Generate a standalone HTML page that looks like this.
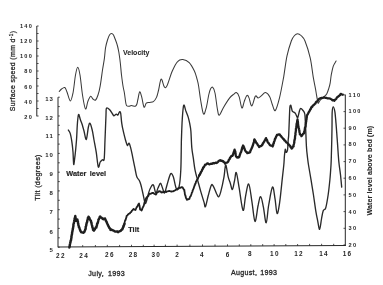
<!DOCTYPE html>
<html><head><meta charset="utf-8"><style>
html,body{margin:0;padding:0;background:#fff;}
body{width:383px;height:285px;overflow:hidden;}
svg{display:block;}
text{font-family:"Liberation Sans",Arial,sans-serif;fill:#262626;stroke:#262626;stroke-width:0.18px;}
.n{font-size:5.6px;font-weight:bold;letter-spacing:1.25px;stroke-width:0;}
.nt{font-size:6px;font-weight:bold;letter-spacing:1.1px;stroke-width:0;}
.nb{font-size:6.4px;font-weight:bold;letter-spacing:1.3px;stroke-width:0;}
.lab{font-size:7.3px;font-weight:bold;word-spacing:1.5px;}
.ax{font-size:7.4px;stroke-width:0.28px;}
.dt{font-size:7.1px;letter-spacing:0.35px;word-spacing:1.6px;stroke-width:0.3px;}
</style></head><body>
<svg width="383" height="285" viewBox="0 0 383 285">
<rect width="383" height="285" fill="#fff"/>

<line x1="36.8" y1="26" x2="36.8" y2="116.3" stroke="#262626" stroke-width="1"/>
<line x1="36.8" y1="26.0" x2="38.6" y2="26.0" stroke="#262626" stroke-width="0.8"/>
<line x1="36.8" y1="33.5" x2="38.6" y2="33.5" stroke="#262626" stroke-width="0.8"/>
<line x1="36.8" y1="41.0" x2="38.6" y2="41.0" stroke="#262626" stroke-width="0.8"/>
<line x1="36.8" y1="48.5" x2="38.6" y2="48.5" stroke="#262626" stroke-width="0.8"/>
<line x1="36.8" y1="56.0" x2="38.6" y2="56.0" stroke="#262626" stroke-width="0.8"/>
<line x1="36.8" y1="63.5" x2="38.6" y2="63.5" stroke="#262626" stroke-width="0.8"/>
<line x1="36.8" y1="71.0" x2="38.6" y2="71.0" stroke="#262626" stroke-width="0.8"/>
<line x1="36.8" y1="78.5" x2="38.6" y2="78.5" stroke="#262626" stroke-width="0.8"/>
<line x1="36.8" y1="86.0" x2="38.6" y2="86.0" stroke="#262626" stroke-width="0.8"/>
<line x1="36.8" y1="93.5" x2="38.6" y2="93.5" stroke="#262626" stroke-width="0.8"/>
<line x1="36.8" y1="101.0" x2="38.6" y2="101.0" stroke="#262626" stroke-width="0.8"/>
<line x1="36.8" y1="108.5" x2="38.6" y2="108.5" stroke="#262626" stroke-width="0.8"/>
<line x1="36.8" y1="116.0" x2="38.6" y2="116.0" stroke="#262626" stroke-width="0.8"/>
<line x1="58.0" y1="97.2" x2="58.0" y2="247.3" stroke="#262626" stroke-width="1"/>
<line x1="58.0" y1="97.2" x2="59.8" y2="97.2" stroke="#262626" stroke-width="0.8"/>
<line x1="58.0" y1="106.6" x2="59.8" y2="106.6" stroke="#262626" stroke-width="0.8"/>
<line x1="58.0" y1="116.0" x2="59.8" y2="116.0" stroke="#262626" stroke-width="0.8"/>
<line x1="58.0" y1="125.3" x2="59.8" y2="125.3" stroke="#262626" stroke-width="0.8"/>
<line x1="58.0" y1="134.7" x2="59.8" y2="134.7" stroke="#262626" stroke-width="0.8"/>
<line x1="58.0" y1="144.1" x2="59.8" y2="144.1" stroke="#262626" stroke-width="0.8"/>
<line x1="58.0" y1="153.4" x2="59.8" y2="153.4" stroke="#262626" stroke-width="0.8"/>
<line x1="58.0" y1="162.8" x2="59.8" y2="162.8" stroke="#262626" stroke-width="0.8"/>
<line x1="58.0" y1="172.2" x2="59.8" y2="172.2" stroke="#262626" stroke-width="0.8"/>
<line x1="58.0" y1="181.6" x2="59.8" y2="181.6" stroke="#262626" stroke-width="0.8"/>
<line x1="58.0" y1="190.9" x2="59.8" y2="190.9" stroke="#262626" stroke-width="0.8"/>
<line x1="58.0" y1="200.3" x2="59.8" y2="200.3" stroke="#262626" stroke-width="0.8"/>
<line x1="58.0" y1="209.7" x2="59.8" y2="209.7" stroke="#262626" stroke-width="0.8"/>
<line x1="58.0" y1="219.1" x2="59.8" y2="219.1" stroke="#262626" stroke-width="0.8"/>
<line x1="58.0" y1="228.4" x2="59.8" y2="228.4" stroke="#262626" stroke-width="0.8"/>
<line x1="58.0" y1="237.8" x2="59.8" y2="237.8" stroke="#262626" stroke-width="0.8"/>
<line x1="58.0" y1="247.2" x2="59.8" y2="247.2" stroke="#262626" stroke-width="0.8"/>
<line x1="57.9" y1="247" x2="345.8" y2="245.5" stroke="#262626" stroke-width="1"/>
<line x1="70.5" y1="246.9" x2="70.5" y2="245.1" stroke="#262626" stroke-width="0.8"/>
<line x1="82.7" y1="246.9" x2="82.7" y2="245.1" stroke="#262626" stroke-width="0.8"/>
<line x1="95.4" y1="246.8" x2="95.4" y2="245.0" stroke="#262626" stroke-width="0.8"/>
<line x1="107.3" y1="246.7" x2="107.3" y2="244.9" stroke="#262626" stroke-width="0.8"/>
<line x1="119.6" y1="246.7" x2="119.6" y2="244.9" stroke="#262626" stroke-width="0.8"/>
<line x1="131.5" y1="246.6" x2="131.5" y2="244.8" stroke="#262626" stroke-width="0.8"/>
<line x1="143.3" y1="246.6" x2="143.3" y2="244.8" stroke="#262626" stroke-width="0.8"/>
<line x1="154.1" y1="246.5" x2="154.1" y2="244.7" stroke="#262626" stroke-width="0.8"/>
<line x1="165.4" y1="246.4" x2="165.4" y2="244.6" stroke="#262626" stroke-width="0.8"/>
<line x1="177.1" y1="246.4" x2="177.1" y2="244.6" stroke="#262626" stroke-width="0.8"/>
<line x1="189.9" y1="246.3" x2="189.9" y2="244.5" stroke="#262626" stroke-width="0.8"/>
<line x1="202.5" y1="246.2" x2="202.5" y2="244.4" stroke="#262626" stroke-width="0.8"/>
<line x1="215.0" y1="246.2" x2="215.0" y2="244.4" stroke="#262626" stroke-width="0.8"/>
<line x1="227.5" y1="246.1" x2="227.5" y2="244.3" stroke="#262626" stroke-width="0.8"/>
<line x1="239.3" y1="246.1" x2="239.3" y2="244.3" stroke="#262626" stroke-width="0.8"/>
<line x1="250.8" y1="246.0" x2="250.8" y2="244.2" stroke="#262626" stroke-width="0.8"/>
<line x1="262.7" y1="245.9" x2="262.7" y2="244.1" stroke="#262626" stroke-width="0.8"/>
<line x1="274.1" y1="245.9" x2="274.1" y2="244.1" stroke="#262626" stroke-width="0.8"/>
<line x1="285.8" y1="245.8" x2="285.8" y2="244.0" stroke="#262626" stroke-width="0.8"/>
<line x1="297.6" y1="245.8" x2="297.6" y2="244.0" stroke="#262626" stroke-width="0.8"/>
<line x1="309.6" y1="245.7" x2="309.6" y2="243.9" stroke="#262626" stroke-width="0.8"/>
<line x1="321.6" y1="245.6" x2="321.6" y2="243.8" stroke="#262626" stroke-width="0.8"/>
<line x1="333.7" y1="245.6" x2="333.7" y2="243.8" stroke="#262626" stroke-width="0.8"/>
<line x1="345.3" y1="94.6" x2="345.3" y2="245.9" stroke="#262626" stroke-width="1"/>
<line x1="343.5" y1="94.9" x2="345.3" y2="94.9" stroke="#262626" stroke-width="0.8"/>
<line x1="343.5" y1="111.6" x2="345.3" y2="111.6" stroke="#262626" stroke-width="0.8"/>
<line x1="343.5" y1="128.2" x2="345.3" y2="128.2" stroke="#262626" stroke-width="0.8"/>
<line x1="343.5" y1="144.9" x2="345.3" y2="144.9" stroke="#262626" stroke-width="0.8"/>
<line x1="343.5" y1="161.6" x2="345.3" y2="161.6" stroke="#262626" stroke-width="0.8"/>
<line x1="343.5" y1="178.2" x2="345.3" y2="178.2" stroke="#262626" stroke-width="0.8"/>
<line x1="343.5" y1="194.9" x2="345.3" y2="194.9" stroke="#262626" stroke-width="0.8"/>
<line x1="343.5" y1="211.6" x2="345.3" y2="211.6" stroke="#262626" stroke-width="0.8"/>
<line x1="343.5" y1="228.3" x2="345.3" y2="228.3" stroke="#262626" stroke-width="0.8"/>
<line x1="343.5" y1="244.9" x2="345.3" y2="244.9" stroke="#262626" stroke-width="0.8"/>
<text class="n" x="33.1" y="28.1" text-anchor="end">140</text>
<text class="n" x="33.1" y="43.0" text-anchor="end">120</text>
<text class="n" x="33.1" y="58.2" text-anchor="end">100</text>
<text class="n" x="33.1" y="73.4" text-anchor="end">80</text>
<text class="n" x="33.1" y="88.6" text-anchor="end">60</text>
<text class="n" x="33.1" y="104.0" text-anchor="end">40</text>
<text class="n" x="33.1" y="119.1" text-anchor="end">20</text>
<text class="nt" x="54.0" y="100.6" text-anchor="end">13</text>
<text class="nt" x="54.0" y="119.8" text-anchor="end">12</text>
<text class="nt" x="54.0" y="138.0" text-anchor="end">11</text>
<text class="nt" x="54.0" y="157.2" text-anchor="end">10</text>
<text class="nt" x="54.0" y="176.0" text-anchor="end">9</text>
<text class="nt" x="54.0" y="195.1" text-anchor="end">8</text>
<text class="nt" x="54.0" y="213.8" text-anchor="end">7</text>
<text class="nt" x="54.0" y="233.5" text-anchor="end">6</text>
<text class="nt" x="54.0" y="252.2" text-anchor="end">5</text>
<text class="n" x="348.6" y="97.3">110</text>
<text class="n" x="348.6" y="113.2">100</text>
<text class="n" x="348.6" y="129.6">90</text>
<text class="n" x="348.6" y="146.2">80</text>
<text class="n" x="348.6" y="163.0">70</text>
<text class="n" x="348.6" y="180.3">60</text>
<text class="n" x="348.6" y="197.0">50</text>
<text class="n" x="348.6" y="213.7">40</text>
<text class="n" x="348.6" y="230.3">30</text>
<text class="n" x="348.6" y="247.0">20</text>
<text class="nb" x="60.9" y="257.8" text-anchor="middle">22</text>
<text class="nb" x="84.2" y="257.6" text-anchor="middle">24</text>
<text class="nb" x="109.9" y="257.4" text-anchor="middle">26</text>
<text class="nb" x="133.6" y="257.2" text-anchor="middle">28</text>
<text class="nb" x="156.3" y="257.1" text-anchor="middle">30</text>
<text class="nb" x="177.7" y="256.9" text-anchor="middle">2</text>
<text class="nb" x="202.5" y="256.7" text-anchor="middle">4</text>
<text class="nb" x="228.2" y="256.5" text-anchor="middle">6</text>
<text class="nb" x="250.5" y="256.3" text-anchor="middle">8</text>
<text class="nb" x="274.9" y="256.1" text-anchor="middle">10</text>
<text class="nb" x="299.0" y="256.0" text-anchor="middle">12</text>
<text class="nb" x="324.1" y="255.8" text-anchor="middle">14</text>
<text class="nb" x="347.6" y="255.6" text-anchor="middle">16</text>
<text class="ax" transform="translate(14.8,111.3) rotate(-90)" style="font-size:6.9px;letter-spacing:0.38px">Surface speed (mm d<tspan dy="-2.2" font-size="4.6px">-1</tspan><tspan dy="2.2">)</tspan></text>
<text class="ax" transform="translate(40.1,177.5) rotate(-90)" text-anchor="middle" style="font-size:7.2px;letter-spacing:0.32px">Tilt  (degrees)</text>
<text class="ax" transform="translate(371.5,170.6) rotate(-90)" text-anchor="middle" font-weight="bold" style="font-size:7.1px;letter-spacing:0.1px;stroke-width:0.08px">Water level above bed (m)</text>
<text class="dt" x="88.2" y="275.7">July, 1993</text>
<text class="dt" x="231.0" y="274.6" style="letter-spacing:0.3px;word-spacing:0.9px">August,  1993</text>
<text class="lab" x="123" y="54.7" style="font-size:7.0px;stroke-width:0.05px">Velocity</text>
<text class="lab" x="66.3" y="176">Water level</text>
<text class="lab" x="128.3" y="232">Tilt</text>
<path d="M59.2,91.5 C59.6,91.1 60.6,89.7 61.5,89.0 C62.4,88.3 63.9,87.0 64.8,87.5 C65.7,88.0 66.1,89.8 67.0,92.0 C67.9,94.2 69.3,100.8 70.3,101.0 C71.3,101.2 72.1,97.3 73.0,93.0 C73.9,88.7 74.7,79.3 75.5,75.0 C76.3,70.7 77.0,67.3 77.7,67.3 C78.5,67.3 79.2,70.4 80.0,75.0 C80.8,79.6 81.6,89.3 82.5,95.0 C83.4,100.7 84.6,108.0 85.5,109.0 C86.4,110.0 87.1,103.1 88.0,101.0 C88.9,98.9 89.9,96.6 90.7,96.3 C91.5,96.0 92.2,98.4 93.0,99.0 C93.8,99.6 94.8,100.7 95.6,100.0 C96.4,99.3 97.2,97.4 98.0,95.0 C98.8,92.6 99.5,90.0 100.2,85.8 C101.0,81.6 101.8,74.6 102.5,70.0 C103.2,65.4 103.9,62.1 104.4,58.4 C104.9,54.7 105.0,51.1 105.5,48.0 C106.0,44.9 106.8,42.2 107.5,40.0 C108.2,37.8 108.8,36.1 109.5,35.0 C110.2,33.9 110.7,33.5 111.4,33.5 C112.1,33.5 112.8,33.8 113.5,35.0 C114.2,36.2 115.1,39.0 115.8,40.8 C116.5,42.6 117.0,44.1 117.5,46.0 C118.0,47.9 118.3,49.3 118.8,52.0 C119.2,54.7 119.8,58.2 120.2,62.0 C120.7,65.8 121.0,71.0 121.5,75.0 C122.0,79.0 122.5,83.0 123.0,86.0 C123.5,89.0 124.0,90.5 124.4,93.0 C124.8,95.5 125.2,98.9 125.5,101.0 C125.8,103.1 125.9,104.6 126.5,105.5 C127.1,106.4 128.2,106.3 129.0,106.3 C129.8,106.3 130.2,105.5 131.3,105.5 C132.4,105.5 134.4,106.5 135.3,106.3 C136.2,106.0 136.5,105.2 136.9,104.0 C137.3,102.8 137.5,101.0 138.0,99.0 C138.5,97.0 139.1,92.0 139.7,91.7 C140.3,91.4 141.1,94.8 141.8,97.4 C142.5,100.0 143.2,106.1 144.0,107.1 C144.8,108.1 145.4,104.0 146.3,103.2 C147.2,102.4 148.3,102.7 149.5,102.4 C150.7,102.1 152.2,102.4 153.4,101.6 C154.6,100.8 155.6,99.3 156.5,97.4 C157.4,95.5 157.8,93.1 158.6,90.0 C159.4,86.9 160.2,79.5 161.2,79.0 C162.1,78.5 163.3,85.7 164.3,86.8 C165.3,87.9 165.7,88.4 167.0,85.8 C168.3,83.2 170.5,75.0 172.3,71.0 C174.1,67.0 175.8,63.5 177.6,61.6 C179.3,59.7 180.9,59.3 182.8,59.5 C184.7,59.7 187.3,60.7 189.2,62.6 C191.1,64.5 193.1,68.3 194.4,71.0 C195.7,73.7 196.3,76.5 197.0,79.0 C197.7,81.5 198.0,82.4 198.6,86.0 C199.2,89.6 199.9,95.8 200.7,100.5 C201.5,105.2 202.6,112.8 203.5,114.0 C204.4,115.2 205.4,110.8 206.3,107.6 C207.2,104.4 208.0,98.1 208.7,95.0 C209.4,91.9 209.8,90.3 210.5,89.0 C211.2,87.7 212.1,86.7 212.8,87.4 C213.6,88.1 214.2,89.4 215.0,93.0 C215.8,96.6 216.7,105.5 217.4,109.2 C218.1,112.9 218.3,115.5 219.3,115.2 C220.3,114.9 221.8,110.4 223.5,107.5 C225.2,104.6 228.0,100.1 229.7,97.9 C231.4,95.7 232.8,95.0 233.9,94.1 C235.0,93.2 235.5,92.1 236.4,92.6 C237.3,93.0 238.3,94.2 239.2,96.8 C240.1,99.4 241.0,107.3 241.9,108.0 C242.8,108.7 243.6,103.1 244.4,101.0 C245.2,98.9 246.2,95.9 247.0,95.4 C247.8,94.9 248.2,96.2 249.0,97.9 C249.8,99.7 250.7,106.2 251.8,105.9 C252.9,105.6 254.3,97.5 255.4,96.2 C256.4,94.9 257.1,98.0 258.1,97.9 C259.1,97.8 260.1,96.7 261.3,95.8 C262.5,94.9 264.1,92.4 265.5,92.6 C266.9,92.8 268.6,94.9 269.7,96.8 C270.8,98.7 271.3,101.9 272.2,104.2 C273.1,106.5 274.1,111.5 275.3,110.5 C276.5,109.5 278.1,103.5 279.5,97.9 C280.9,92.3 282.4,83.8 283.7,76.8 C284.9,69.8 285.7,61.8 287.0,55.8 C288.3,49.8 290.1,44.4 291.3,41.0 C292.6,37.6 293.4,36.7 294.5,35.5 C295.6,34.3 296.5,33.7 297.6,33.7 C298.7,33.7 299.8,34.3 301.0,35.5 C302.2,36.7 303.5,37.3 305.0,41.0 C306.5,44.7 308.8,51.9 310.2,57.9 C311.6,63.9 312.3,71.7 313.2,76.8 C314.1,81.9 314.8,85.3 315.4,88.4 C316.0,91.5 316.2,93.4 316.6,95.4 C317.0,97.4 317.2,99.1 317.5,100.4 C317.8,101.8 317.8,103.5 318.2,103.5 C318.6,103.5 319.1,101.6 320.0,100.5 C320.9,99.4 322.8,97.9 323.9,96.8 C325.0,95.7 325.9,95.4 326.7,94.0 C327.5,92.6 328.2,90.3 328.8,88.4 C329.4,86.5 329.8,85.1 330.2,82.8 C330.6,80.5 330.8,77.5 331.3,74.7 C331.8,72.0 332.4,68.6 333.2,66.3 C334.0,64.0 335.6,61.9 336.1,61.0" fill="none" stroke="#3a3a3a" stroke-width="1.05" stroke-linejoin="round" stroke-linecap="round"/>
<path d="M68.3,130.0 C68.6,130.6 69.6,131.5 70.2,133.4 C70.8,135.3 71.3,138.2 71.8,141.3 C72.3,144.4 72.7,148.1 73.0,152.0 C73.3,155.9 73.4,163.9 73.7,164.5 C74.0,165.1 74.5,159.9 75.0,155.8 C75.5,151.7 76.1,145.1 76.5,140.0 C76.9,134.9 77.0,129.2 77.3,125.0 C77.6,120.8 78.0,115.3 78.5,114.5 C79.0,113.7 79.9,118.4 80.5,120.0 C81.1,121.6 81.4,122.2 82.0,124.0 C82.6,125.8 83.3,128.4 84.0,131.0 C84.7,133.6 85.6,140.2 86.3,139.5 C87.0,138.8 87.8,129.7 88.4,127.0 C89.0,124.3 89.4,122.8 90.0,123.3 C90.6,123.8 91.5,127.2 92.2,130.0 C92.9,132.8 93.3,136.2 94.0,140.0 C94.7,143.8 95.6,148.1 96.3,152.6 C97.0,157.1 97.6,165.3 98.3,166.9 C99.0,168.5 99.5,163.2 100.2,162.0 C100.9,160.8 101.9,160.2 102.6,159.7 C103.3,159.2 103.8,162.3 104.2,159.0 C104.6,155.7 104.7,147.3 105.0,140.0 C105.3,132.7 105.8,120.3 106.0,115.0 C106.2,109.7 105.9,109.1 106.5,108.2 C107.1,107.3 108.6,108.7 109.7,109.7 C110.8,110.8 112.2,113.5 112.9,114.5 C113.6,115.5 113.3,115.8 113.9,115.8 C114.5,115.8 115.6,114.3 116.3,114.2 C117.0,114.1 117.4,115.4 117.9,115.0 C118.4,114.6 119.0,112.1 119.5,111.8 C120.0,111.5 120.3,111.4 120.7,113.4 C121.1,115.4 121.3,120.7 121.8,123.7 C122.2,126.7 122.7,128.7 123.4,131.6 C124.1,134.5 125.1,138.7 125.8,141.0 C126.5,143.3 126.9,145.1 127.4,145.5 C127.9,145.9 128.5,142.9 129.0,143.2 C129.5,143.5 130.0,145.3 130.5,147.1 C131.0,148.9 131.6,151.7 132.1,154.2 C132.6,156.7 133.2,159.5 133.7,162.1 C134.2,164.7 134.8,167.5 135.3,170.0 C135.8,172.5 136.2,175.4 136.9,177.1 C137.6,178.8 138.5,179.1 139.2,180.3 C139.8,181.5 140.2,182.4 140.8,184.5 C141.4,186.6 142.2,190.2 142.8,193.0 C143.4,195.8 144.1,199.2 144.5,201.0 C144.9,202.8 145.1,203.8 145.5,203.5 C145.9,203.2 146.6,200.8 147.1,199.0 C147.6,197.2 148.0,194.6 148.7,192.6 C149.3,190.6 150.2,188.3 151.0,187.0 C151.8,185.7 152.6,184.0 153.4,185.0 C154.2,186.0 155.0,192.5 155.8,193.0 C156.6,193.5 157.2,189.6 158.0,188.0 C158.8,186.4 159.8,183.2 160.5,183.2 C161.2,183.2 161.8,186.4 162.5,188.0 C163.2,189.6 163.8,193.5 164.5,193.0 C165.2,192.5 166.0,188.2 167.0,185.0 C168.0,181.8 169.5,175.4 170.5,174.0 C171.5,172.6 172.2,174.1 173.2,176.5 C174.2,178.9 175.3,186.8 176.3,188.5 C177.3,190.2 178.2,190.1 179.0,187.0 C179.8,183.9 180.4,177.8 180.8,170.0 C181.2,162.2 181.2,148.6 181.4,140.0 C181.7,131.4 181.9,124.5 182.3,118.7 C182.7,112.9 183.1,106.6 183.7,105.3 C184.3,104.0 185.1,108.8 185.8,110.8 C186.6,112.8 187.5,115.0 188.2,117.1 C188.8,119.2 189.2,121.0 189.7,123.4 C190.1,125.8 190.6,127.3 190.9,131.3 C191.2,135.3 191.4,143.0 191.8,147.6 C192.2,152.2 192.9,155.0 193.4,158.7 C193.9,162.4 194.3,166.2 195.0,169.8 C195.7,173.4 196.6,176.4 197.6,180.0 C198.6,183.6 199.7,187.9 200.8,191.6 C201.9,195.3 203.2,199.6 204.0,202.1 C204.8,204.6 204.7,207.8 205.4,206.7 C206.1,205.6 207.2,199.4 208.2,195.8 C209.2,192.2 210.4,186.9 211.3,185.3 C212.2,183.7 212.5,184.9 213.4,186.3 C214.3,187.7 215.7,191.9 216.6,193.7 C217.5,195.4 218.0,197.2 218.7,196.8 C219.4,196.5 219.9,194.9 220.8,191.6 C221.7,188.3 223.3,180.7 224.0,176.8 C224.7,172.9 224.7,170.3 225.0,168.4 C225.3,166.5 225.5,163.9 226.0,165.3 C226.5,166.7 227.5,173.8 228.2,176.8 C228.9,179.8 229.6,181.1 230.3,183.2 C231.0,185.3 231.7,189.9 232.4,189.5 C233.1,189.1 233.8,183.8 234.5,181.0 C235.2,178.2 235.5,171.3 236.3,172.5 C237.1,173.7 238.1,181.9 239.2,188.2 C240.3,194.5 241.9,208.9 243.0,210.3 C244.1,211.7 244.6,201.0 245.5,196.6 C246.4,192.2 247.6,183.3 248.7,184.0 C249.8,184.7 250.8,194.6 251.8,200.8 C252.9,207.0 253.9,220.7 255.0,221.4 C256.1,222.1 257.2,209.1 258.2,205.0 C259.1,200.9 259.8,196.2 260.7,196.6 C261.6,196.9 262.5,202.7 263.4,207.1 C264.3,211.5 265.3,223.2 266.2,222.9 C267.1,222.6 267.6,211.0 268.7,205.0 C269.8,199.0 271.4,188.2 272.5,187.1 C273.6,186.0 274.2,194.3 275.0,198.7 C275.8,203.1 276.3,212.7 277.1,213.4 C277.9,214.1 278.7,208.9 279.6,202.9 C280.5,196.9 281.7,183.9 282.4,177.6 C283.1,171.3 283.4,168.8 283.8,165.0 C284.2,161.2 284.2,157.6 284.5,155.0 C284.8,152.4 285.1,149.6 285.3,149.2 C285.6,148.8 285.6,152.3 286.0,152.4 C286.4,152.5 287.1,152.1 287.5,150.0 C287.9,147.9 288.0,142.5 288.2,140.0 C288.4,137.5 288.5,138.8 288.7,135.0 C288.9,131.2 289.2,122.2 289.4,117.5 C289.6,112.8 289.7,109.0 289.9,107.0 C290.1,105.0 290.5,105.0 290.8,105.3 C291.1,105.6 291.4,107.8 291.7,108.8 C292.0,109.8 291.9,110.7 292.5,111.4 C293.1,112.1 294.5,112.3 295.2,113.2 C295.9,114.1 296.5,116.0 296.9,116.7 C297.3,117.4 297.4,118.5 297.8,117.5 C298.2,116.5 299.1,112.0 299.6,110.5 C300.1,109.0 300.1,108.4 300.7,108.4 C301.3,108.4 302.3,109.6 303.0,110.5 C303.7,111.4 304.4,111.6 304.8,114.0 C305.2,116.4 305.2,119.7 305.5,125.0 C305.8,130.3 306.1,140.6 306.4,146.0 C306.7,151.4 307.1,154.3 307.5,157.5 C307.9,160.7 307.9,161.3 308.5,165.0 C309.1,168.7 310.2,174.8 311.0,179.7 C311.8,184.6 312.6,189.2 313.4,194.5 C314.2,199.8 315.2,207.4 315.9,211.7 C316.6,216.0 317.0,217.4 317.6,220.3 C318.2,223.2 319.0,229.6 319.6,229.4 C320.2,229.2 320.9,222.2 321.5,219.0 C322.1,215.8 322.6,212.3 323.3,210.5 C324.0,208.7 324.9,210.7 325.7,208.0 C326.5,205.3 327.5,199.2 328.2,194.5 C328.9,189.8 329.4,184.6 329.9,179.7 C330.4,174.8 330.7,169.8 331.0,165.0 C331.3,160.2 331.3,156.8 331.5,150.6 C331.7,144.4 331.9,134.2 332.0,127.8 C332.1,121.4 332.0,115.5 332.2,112.0 C332.4,108.5 332.9,106.8 333.3,106.8 C333.8,106.8 334.4,109.1 334.9,111.8 C335.3,114.5 335.6,118.6 336.0,123.2 C336.4,127.8 336.8,133.9 337.2,139.2 C337.6,144.5 338.0,150.9 338.3,155.2 C338.6,159.5 338.8,161.7 339.2,165.0 C339.6,168.3 340.1,171.1 340.5,174.8 C340.9,178.5 341.5,185.1 341.7,187.1" fill="none" stroke="#2a2a2a" stroke-width="1.35" stroke-linejoin="round" stroke-linecap="round"/>
<polyline points="69.4,247.5 69.5,246.3 69.8,245.4 69.9,244.8 70.0,244.1 70.2,243.2 70.4,242.0 70.6,241.8 70.7,240.4 71.0,240.2 71.2,238.9 71.4,237.8 71.5,237.2 71.4,236.3 71.6,236.1 71.7,235.1 72.0,234.1 72.1,233.1 72.1,232.4 72.4,231.8 72.4,231.2 72.6,230.1 72.8,229.7 72.8,228.8 73.0,228.3 73.2,226.9 73.4,226.0 73.4,225.8 73.4,224.7 73.5,224.1 73.9,223.2 74.0,222.2 74.1,221.7 74.2,220.8 74.5,220.4 74.6,219.2 74.6,218.4 75.0,217.8 75.2,216.4 75.3,215.9 75.3,216.5 75.5,217.1 75.6,218.5 75.8,218.9 76.0,220.3 76.1,220.8 76.8,220.3 77.4,219.5 77.4,219.9 77.6,221.1 77.9,221.3 77.9,222.1 78.0,223.1 78.3,223.7 78.3,224.7 78.5,225.6 78.9,226.5 78.9,227.2 79.3,227.5 79.7,228.9 80.0,229.7 80.2,230.2 80.5,231.1 80.8,231.4 81.2,232.3 82.4,232.4 83.5,232.8 83.9,232.3 84.3,232.0 84.8,230.7 85.1,230.2 85.3,229.2 85.6,229.2 85.7,227.9 85.7,226.8 86.0,226.2 86.3,225.3 86.2,225.2 86.5,223.7 86.7,222.7 86.9,222.7 87.2,221.6 87.3,220.5 87.5,220.0 87.8,219.2 87.9,217.8 88.3,217.7 88.5,216.7 88.9,217.3 89.1,217.9 89.6,218.2 89.9,219.1 90.3,220.2 90.9,220.8 91.1,222.0 91.3,222.3 91.4,222.9 91.6,223.7 91.9,225.1 92.1,225.5 92.3,226.6 92.4,227.3 92.8,228.2 93.0,228.7 93.0,229.8 93.9,230.6 94.5,229.6 94.8,229.4 95.4,228.1 95.7,227.4 96.4,227.4 96.4,226.6 96.9,225.7 97.0,224.8 97.2,223.5 97.6,223.3 97.8,222.8 98.0,221.9 98.3,220.5 98.4,219.8 98.8,219.3 99.1,218.4 99.4,218.0 99.8,216.8 100.2,216.5 100.8,217.3 101.4,217.7 102.0,218.0 102.6,218.9 103.3,219.2 104.1,218.6 105.1,218.5 105.3,219.2 105.7,220.2 105.9,220.8 106.3,221.4 106.8,222.4 107.1,223.4 107.5,223.9 107.8,224.7 108.1,225.7 108.6,226.3 109.1,227.5 109.6,228.2 110.1,228.5 110.5,229.9 111.6,229.6 112.5,230.3 113.4,230.4 114.3,231.1 115.4,231.6 116.1,231.6 117.1,231.3 118.0,232.2 118.7,231.8 119.6,231.1 120.6,231.0 121.3,230.0 122.3,229.4 122.6,228.5 123.1,227.3 123.4,226.8 123.6,225.8 124.0,225.1 124.1,224.7 124.5,223.8" fill="none" stroke="#1e1e1e" stroke-width="2.45" stroke-linejoin="round" stroke-linecap="round"/>
<polyline points="122.6,228.5 123.1,227.3 123.4,226.8 123.6,225.8 124.0,225.1 124.1,224.7 124.5,223.8 124.6,222.3 124.8,221.9 125.1,220.4 125.5,220.2 125.9,218.7 126.0,218.4 126.4,217.4 126.6,215.9 127.3,215.4 127.7,215.0 128.4,214.0 129.2,213.6 130.1,213.1 130.8,212.1 131.3,212.0 131.8,210.7 132.5,210.2 133.0,209.6 133.6,209.0 134.5,209.6 135.5,210.0 135.9,209.0 136.3,208.0 136.7,207.1 137.3,206.7 137.6,205.8 138.2,204.6 138.6,204.0 139.0,203.5 139.1,204.1 139.4,205.4 139.5,206.1 139.7,206.8 139.8,207.4 139.9,208.1 140.1,209.5 140.8,209.4 141.5,210.5 142.1,209.5 142.4,208.2 142.8,207.5 143.2,206.7 143.5,206.3 143.9,205.1 144.0,204.7 144.3,203.3 144.5,202.5 144.8,201.8 145.0,201.0 145.4,199.9 145.8,199.2 146.3,197.9 146.7,197.3 147.4,196.8 147.9,196.2 148.5,195.7 148.9,194.5 149.6,193.7 150.3,193.8 150.9,193.6 151.9,193.1 152.7,192.9 153.3,193.0 154.2,193.7 155.1,194.1 155.8,194.6 156.5,193.7 157.0,192.5 157.6,192.2 158.3,191.9 159.0,191.1 159.8,191.6 160.5,191.4 161.3,192.4 162.0,192.6 162.9,192.0 163.7,192.0 164.4,191.9 165.4,191.6 166.1,192.1 166.8,191.3 167.6,191.4 168.5,191.1 169.2,190.8 169.9,191.2 170.9,191.5 171.6,191.5 172.3,191.4 173.2,191.4 174.0,190.8 174.7,190.6 175.5,190.0 176.4,189.4 177.2,189.5 177.8,188.5 178.8,188.3 179.5,187.5 180.2,187.9 181.0,187.4 181.8,187.1 182.6,187.4 183.1,188.4 183.7,189.2 184.1,190.0 184.4,190.0 184.4,191.3 184.7,192.0 184.7,192.9 184.9,194.2 185.0,195.0 185.4,195.2 185.6,196.6 185.7,197.1 186.0,198.1 186.7,199.2 187.0,199.9 187.8,199.1 188.6,199.3 189.4,198.9 189.8,197.5 190.1,196.7 190.4,196.6 190.9,195.7 191.1,195.0 191.6,193.9 191.8,192.7 192.1,192.3 192.5,191.7 192.6,190.4 193.1,189.7 193.2,189.2 193.5,188.8 193.9,187.6 194.1,186.8 194.4,186.2 194.6,185.2 194.9,185.1 195.2,183.7 195.6,183.6 195.9,182.0 196.3,181.2 196.7,180.3 197.1,179.6 197.6,179.3 198.1,178.1 198.4,177.4 198.8,176.5 199.1,175.6 199.7,174.7 200.0,174.3 200.5,173.1 200.7,172.4" fill="none" stroke="#1e1e1e" stroke-width="1.8" stroke-linejoin="round" stroke-linecap="round"/>
<polyline points="199.1,175.6 199.7,174.7 200.0,174.3 200.5,173.1 200.7,172.4 201.2,171.8 201.7,171.3 202.1,169.8 202.3,169.6 202.9,168.6 203.2,167.4 203.6,167.5 204.1,166.6 204.7,165.5 205.1,164.7 205.9,164.6 206.6,164.0 207.1,163.4 207.9,163.5 208.6,164.0 209.4,164.3 210.3,164.0 211.2,163.7 212.3,163.8 213.1,163.0 214.1,163.4 214.9,163.0 215.8,162.7 216.5,163.0 217.4,162.5 218.2,161.7 218.7,160.9 219.6,160.7 220.2,160.2 221.1,160.9 221.9,160.7 222.7,161.4 223.2,161.2 223.8,162.1 224.5,162.5 225.1,163.6 225.8,162.9 226.7,162.7 227.5,162.4 227.8,162.0 228.3,161.4 228.8,160.0 229.2,159.4 229.7,159.1 230.0,157.8 230.5,157.5 231.1,156.2 231.7,155.9 232.5,155.8 232.8,155.2 233.2,153.8 233.3,153.5 233.8,151.9 234.1,151.5 234.3,150.6 234.6,149.6 234.8,150.7 235.2,151.2 235.4,152.1 235.4,153.4 235.7,153.9 235.6,154.7 235.9,155.9 236.0,156.2 236.4,156.7 237.1,157.6 238.0,157.2 238.6,157.5 239.1,156.9 239.4,156.7 239.6,155.3 240.0,154.9 240.1,154.2 240.5,153.0 240.7,152.6 241.2,151.7 241.5,150.4 241.5,150.0 241.9,149.6 242.0,148.2 242.3,147.7 242.6,146.6 242.8,146.3 243.1,145.5 243.4,145.9 243.6,146.7 244.1,147.3 244.3,148.7 244.6,148.8 244.9,150.0 245.6,151.2 246.3,152.0 246.7,152.0 247.3,153.2 248.2,152.9 248.9,152.6 249.7,152.6 250.2,151.9 250.5,150.5 251.0,149.8 251.3,149.1 251.8,148.1 252.0,147.4 252.2,147.2 252.6,145.9 252.8,145.7 253.1,144.2 253.4,143.8 253.7,142.5 253.8,142.4 254.1,141.7 254.1,140.3 254.4,139.4 255.1,140.6 255.6,141.2 256.0,142.1 256.4,143.1 257.0,143.3 257.5,144.6 258.0,145.2 258.5,145.8 259.1,147.0 260.0,146.4 260.7,146.2 261.6,145.8 262.0,145.0 262.6,144.5 262.9,143.3 263.5,142.9 264.0,141.7 264.3,141.5 264.8,140.3 265.1,140.2 265.5,139.0 266.0,138.1 266.5,139.4 266.7,139.5 267.2,140.3 267.4,141.7 267.9,142.4 268.4,143.1 268.8,143.1 269.2,144.1 269.9,145.0 270.2,145.4 271.1,145.6 271.8,145.6 272.7,146.5 272.8,145.3 273.3,144.9 273.4,143.4 273.8,143.4 274.0,141.8 274.3,141.3 274.6,140.7 274.8,139.5 275.1,138.7 275.4,138.6 275.9,137.2 276.1,136.7 276.6,135.9 276.9,135.0 277.5,134.9 278.1,134.7 279.1,134.4 279.9,134.7 280.4,135.6 281.0,136.0 281.5,136.9 282.1,137.5 282.6,138.0 283.0,138.8 283.7,139.1 284.3,140.3 284.8,140.4 285.3,140.9 285.8,141.8 286.4,142.4 287.1,142.7 287.7,143.3 288.3,144.5 288.9,144.5 289.4,145.4 290.1,145.8 290.7,147.2 291.2,147.8 291.6,148.6 292.3,147.9 293.0,146.4 293.6,146.4 293.5,145.1 293.9,144.1 294.1,143.4 294.2,142.5 294.3,142.4 294.3,141.0 294.6,140.2 294.6,139.3 294.8,139.2 295.0,138.4 295.0,137.4 295.1,136.3 295.3,135.3 295.5,134.7 295.5,134.1 295.4,133.4 295.7,132.0 295.8,131.0 296.0,130.5 295.9,129.8 296.0,128.4 296.2,127.4 296.3,126.8 296.4,126.6 296.5,125.5 296.6,124.1 296.7,123.4 297.0,122.8 297.1,122.4 297.2,120.9 297.5,119.9 297.5,119.4 297.6,120.2 297.7,121.2 297.9,121.7 298.0,122.8 298.0,124.1 298.1,124.2 298.2,125.5 298.5,126.4 298.5,126.8 298.6,128.0 298.9,128.6 299.1,129.6 299.4,130.7 299.4,131.7 299.5,132.3 299.8,132.9 299.9,134.3 300.4,134.7 301.1,135.0 301.4,136.1 302.1,135.4 302.8,134.2 303.3,133.6 303.9,133.4 304.3,132.3 304.2,131.6 304.6,130.3 304.8,129.5 304.9,128.3 305.1,127.3 305.3,127.1 305.6,126.3 305.7,124.9 305.7,124.3 305.9,123.5 305.9,122.7 306.2,121.5 306.3,120.5 306.2,119.8 306.5,119.6 306.6,118.2 306.8,117.4 306.7,117.1 306.9,116.0 307.0,115.4 307.5,114.5 308.0,113.8 308.4,112.9 309.0,111.8 309.3,111.3 309.8,110.8 310.2,109.3 310.6,109.4 311.1,108.0 311.4,107.2 312.0,107.1 312.4,106.5 312.7,105.7 313.4,105.3 314.2,104.7 314.6,104.0 315.5,103.5 315.9,102.2 316.6,101.4 317.4,101.3 317.9,100.6 318.5,99.4 319.2,98.8 320.2,98.4 321.0,98.1 321.8,97.8 322.7,98.0 323.7,97.5 324.7,97.5 325.6,97.8 326.2,97.8 327.2,98.3 328.1,98.4 329.0,98.3 329.9,98.5 330.8,99.0 331.5,99.3 332.6,100.3 333.3,100.1 334.4,100.7 335.0,99.7 335.8,99.2 336.4,98.6 337.1,97.2 338.0,96.8 338.5,96.2 339.2,95.7 340.1,95.0 340.7,93.9 341.7,94.3 342.8,94.7" fill="none" stroke="#1e1e1e" stroke-width="2.3" stroke-linejoin="round" stroke-linecap="round"/>
</svg></body></html>
